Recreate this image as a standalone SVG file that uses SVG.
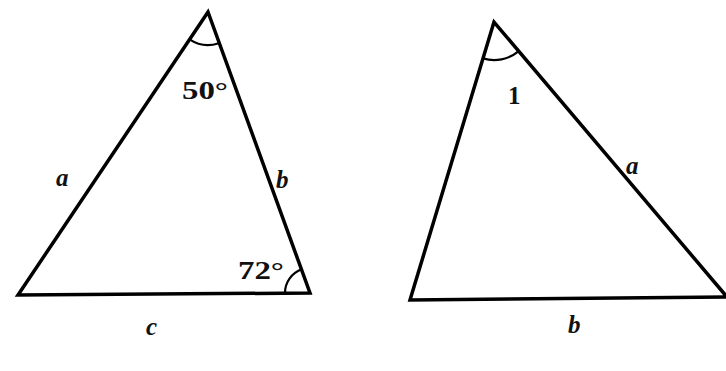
<svg xmlns="http://www.w3.org/2000/svg" width="726" height="371" viewBox="0 0 726 371">
<style>
.edge{fill:none;stroke:#000;stroke-width:3.5;stroke-linejoin:miter}
.arc{fill:none;stroke:#000;stroke-width:2.2}
.lab{font-family:"Liberation Serif","Times New Roman",serif;font-style:italic;font-weight:bold;font-size:25px;fill:#111}
.num{font-family:"Liberation Serif","Times New Roman",serif;font-weight:bold;font-size:25px;fill:#111}
</style>
<rect width="726" height="371" fill="#fff"/>
<g id="triangle-left">
<polygon class="edge" points="208,12 18,295 310,293"/>
<path class="arc" d="M189.6,39.4 A33,33 0 0 0 218.8,43.2"/>
<path class="arc" d="M285,293 A25,25 0 0 1 302,269.3"/>
<text class="num" x="182" y="99" textLength="46" lengthAdjust="spacingAndGlyphs">50°</text>
<text class="num" x="238" y="279" textLength="46" lengthAdjust="spacingAndGlyphs">72°</text>
<text class="lab" x="56" y="186">a</text>
<text class="lab" x="276" y="188">b</text>
<text class="lab" x="146" y="335">c</text>
</g>
<g id="triangle-right">
<polygon class="edge" points="494,22 410,300 727,297"/>
<path class="arc" d="M483,58.4 A38,38 0 0 0 518.4,51.3"/>
<text class="num" x="508" y="104">1</text>
<text class="lab" x="626" y="174">a</text>
<text class="lab" x="568" y="333">b</text>
</g>
</svg>
